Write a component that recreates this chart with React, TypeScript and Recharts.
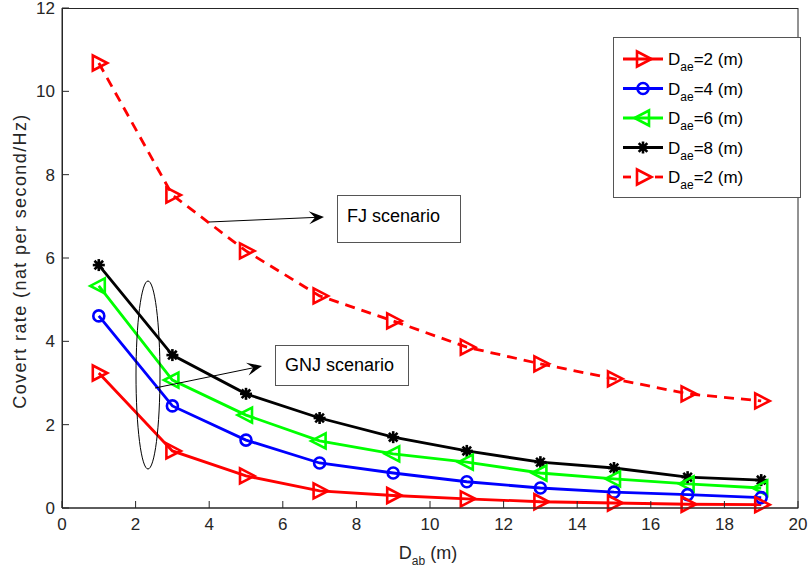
import React from "react";
import { LineChart, Line, XAxis, YAxis } from "recharts";

const distances = [1, 3, 5, 7, 9, 11, 13, 15, 17, 19];
const gnj2 = [3.24, 1.37, 0.77, 0.41, 0.3, 0.22, 0.15, 0.12, 0.09, 0.08];
const gnj4 = [4.61, 2.45, 1.63, 1.08, 0.84, 0.63, 0.48, 0.38, 0.32, 0.25];
const gnj6 = [5.33, 3.07, 2.23, 1.61, 1.3, 1.1, 0.84, 0.7, 0.58, 0.48];
const gnj8 = [5.83, 3.67, 2.74, 2.16, 1.7, 1.37, 1.1, 0.96, 0.74, 0.67];
const fj2 = [10.68, 7.51, 6.17, 5.09, 4.49, 3.86, 3.46, 3.1, 2.74, 2.57];
const xTicks = [0, 2, 4, 6, 8, 10, 12, 14, 16, 18, 20];
const yTicks = [0, 2, 4, 6, 8, 10, 12];
const legendItems = [
  { d: "2", color: "#ff0000", marker: "right", dashed: false },
  { d: "4", color: "#0000ff", marker: "circle", dashed: false },
  { d: "6", color: "#00ff00", marker: "left", dashed: false },
  { d: "8", color: "#000000", marker: "star", dashed: false },
  { d: "2", color: "#ff0000", marker: "right", dashed: true },
];

const data = distances.map((x, i) => ({
  x,
  gnj2: gnj2[i],
  gnj4: gnj4[i],
  gnj6: gnj6[i],
  gnj8: gnj8[i],
  fj2: fj2[i],
}));

const FONT = "'Liberation Sans', Arial, Helvetica, sans-serif";
const AXIS = "#262626";
const LW = 2.8;

function Marker({ kind, cx, cy, color }: { kind: string; cx: number; cy: number; color: string }) {
  if (kind === "right")
    return <path d={`M${cx - 6},${cy - 7.5} L${cx + 8.5},${cy} L${cx - 6},${cy + 7.5} Z`} fill="none" stroke={color} strokeWidth={2.6} />;
  if (kind === "left")
    return <path d={`M${cx + 6},${cy - 7.5} L${cx - 8.5},${cy} L${cx + 6},${cy + 7.5} Z`} fill="none" stroke={color} strokeWidth={2.6} />;
  if (kind === "circle") return <circle cx={cx} cy={cy} r={5.5} fill="none" stroke={color} strokeWidth={2.6} />;
  const s = 6;
  const d = 4.3;
  return (
    <g stroke={color} strokeWidth={2.6}>
      <line x1={cx - s} y1={cy} x2={cx + s} y2={cy} />
      <line x1={cx} y1={cy - s} x2={cx} y2={cy + s} />
      <line x1={cx - d} y1={cy - d} x2={cx + d} y2={cy + d} />
      <line x1={cx - d} y1={cy + d} x2={cx + d} y2={cy - d} />
      <circle cx={cx} cy={cy} r={3.5} fill={color} stroke="none" />
    </g>
  );
}

const dot = (kind: string, color: string) => (props: any) => {
  const { cx, cy, index } = props;
  if (cx == null || cy == null) return <g key={index} />;
  return (
    <g key={index}>
      <Marker kind={kind} cx={cx} cy={cy} color={color} />
    </g>
  );
};

function Arrow({ x1, y1, x2, y2 }: { x1: number; y1: number; x2: number; y2: number }) {
  const a = Math.atan2(y2 - y1, x2 - x1);
  const L = 15;
  const W = 6.5;
  const bx = x2 - L * Math.cos(a);
  const by = y2 - L * Math.sin(a);
  const px = -Math.sin(a);
  const py = Math.cos(a);
  const mx = x2 - L * 0.6 * Math.cos(a);
  const my = y2 - L * 0.6 * Math.sin(a);
  return (
    <g>
      <line x1={x1} y1={y1} x2={mx} y2={my} stroke="#000" strokeWidth={1} />
      <path d={`M${x2},${y2} L${bx + W * px},${by + W * py} L${mx},${my} L${bx - W * px},${by - W * py} Z`} fill="#000" />
    </g>
  );
}

export default function App() {
  return (
    <div style={{ position: "absolute", left: 0, top: 0, width: 811, height: 577, background: "#fff", fontFamily: FONT }}>
      <LineChart width={811} height={577} data={data} margin={{ top: 8, right: 13, left: 0, bottom: 0 }}>
        <XAxis
          dataKey="x"
          type="number"
          domain={[0, 20]}
          ticks={xTicks}
          height={69}
          tickSize={-7}
          tickMargin={17}
          stroke={AXIS}
          tick={{ fill: AXIS, fontSize: 17, fontFamily: FONT }}
          interval={0}
        />
        <XAxis
          xAxisId="top"
          orientation="top"
          dataKey="x"
          type="number"
          domain={[0, 20]}
          ticks={xTicks}
          height={0}
          tickSize={-7}
          stroke={AXIS}
          tickFormatter={() => ""}
        />
        <YAxis
          type="number"
          domain={[0, 12]}
          ticks={yTicks}
          width={62}
          tickSize={-7}
          tickMargin={14}
          stroke={AXIS}
          tick={{ fill: AXIS, fontSize: 17, fontFamily: FONT }}
          interval={0}
        />
        <YAxis
          yAxisId="right"
          orientation="right"
          type="number"
          domain={[0, 12]}
          ticks={yTicks}
          width={0}
          tickSize={-7}
          stroke={AXIS}
          tickFormatter={() => ""}
        />
        <Line dataKey="fj2" stroke="#ff0000" strokeWidth={LW} strokeDasharray="10 7" dot={dot("right", "#ff0000")} isAnimationActive={false} />
        <Line dataKey="gnj8" stroke="#000000" strokeWidth={LW} dot={dot("star", "#000000")} isAnimationActive={false} />
        <Line dataKey="gnj6" stroke="#00ff00" strokeWidth={LW} dot={dot("left", "#00ff00")} isAnimationActive={false} />
        <Line dataKey="gnj4" stroke="#0000ff" strokeWidth={LW} dot={dot("circle", "#0000ff")} isAnimationActive={false} />
        <Line dataKey="gnj2" stroke="#ff0000" strokeWidth={LW} dot={dot("right", "#ff0000")} isAnimationActive={false} />
      </LineChart>

      <svg width={811} height={577} style={{ position: "absolute", left: 0, top: 0, pointerEvents: "none" }} fontFamily={FONT}>
        <rect x={62.5} y={8.5} width={735.5} height={499.5} fill="none" stroke={AXIS} strokeWidth={1} />
        <text transform="translate(26,261) rotate(-90)" textAnchor="middle" fontSize={18} letterSpacing={1.4} fill={AXIS}>
          Covert rate (nat per second/Hz)
        </text>
        <text x={428} y={559} textAnchor="middle" fontSize={18} fill={AXIS}>
          D<tspan fontSize={12} dy={6}>ab</tspan>
          <tspan dy={-6}> (m)</tspan>
        </text>

        <ellipse cx={148} cy={375} rx={12} ry={94} fill="none" stroke="#000" strokeWidth={1} />
        <Arrow x1={155} y1={388} x2={262} y2={366} />
        <rect x={275.5} y={345.5} width={133} height={40} fill="#fff" stroke="#555" strokeWidth={1} />
        <text x={285} y={371} fontSize={18} fill="#000">GNJ scenario</text>

        <Arrow x1={209} y1={222} x2={324} y2={217} />
        <rect x={337.5} y={195.5} width={123} height={47} fill="#fff" stroke="#555" strokeWidth={1} />
        <text x={347} y={222} fontSize={18} fill="#000">FJ scenario</text>

        <rect x={613.5} y={37.5} width={187} height={160} fill="#fff" stroke="#555" strokeWidth={1} />
        {legendItems.map((it, i) => {
          const y = 59 + i * 29.5;
          return (
            <g key={i}>
              {it.dashed ? (
                <g stroke={it.color} strokeWidth={LW}>
                  <line x1={623} y1={y} x2={631} y2={y} />
                  <line x1={655} y1={y} x2={663} y2={y} />
                </g>
              ) : (
                <line x1={623} y1={y} x2={663} y2={y} stroke={it.color} strokeWidth={LW} />
              )}
              <Marker kind={it.marker} cx={643} cy={y} color={it.color} />
              <text x={668} y={y + 6} fontSize={17} fill="#000">
                D<tspan fontSize={12} dy={6}>ae</tspan>
                <tspan dy={-6}>={it.d} (m)</tspan>
              </text>
            </g>
          );
        })}
      </svg>
    </div>
  );
}
